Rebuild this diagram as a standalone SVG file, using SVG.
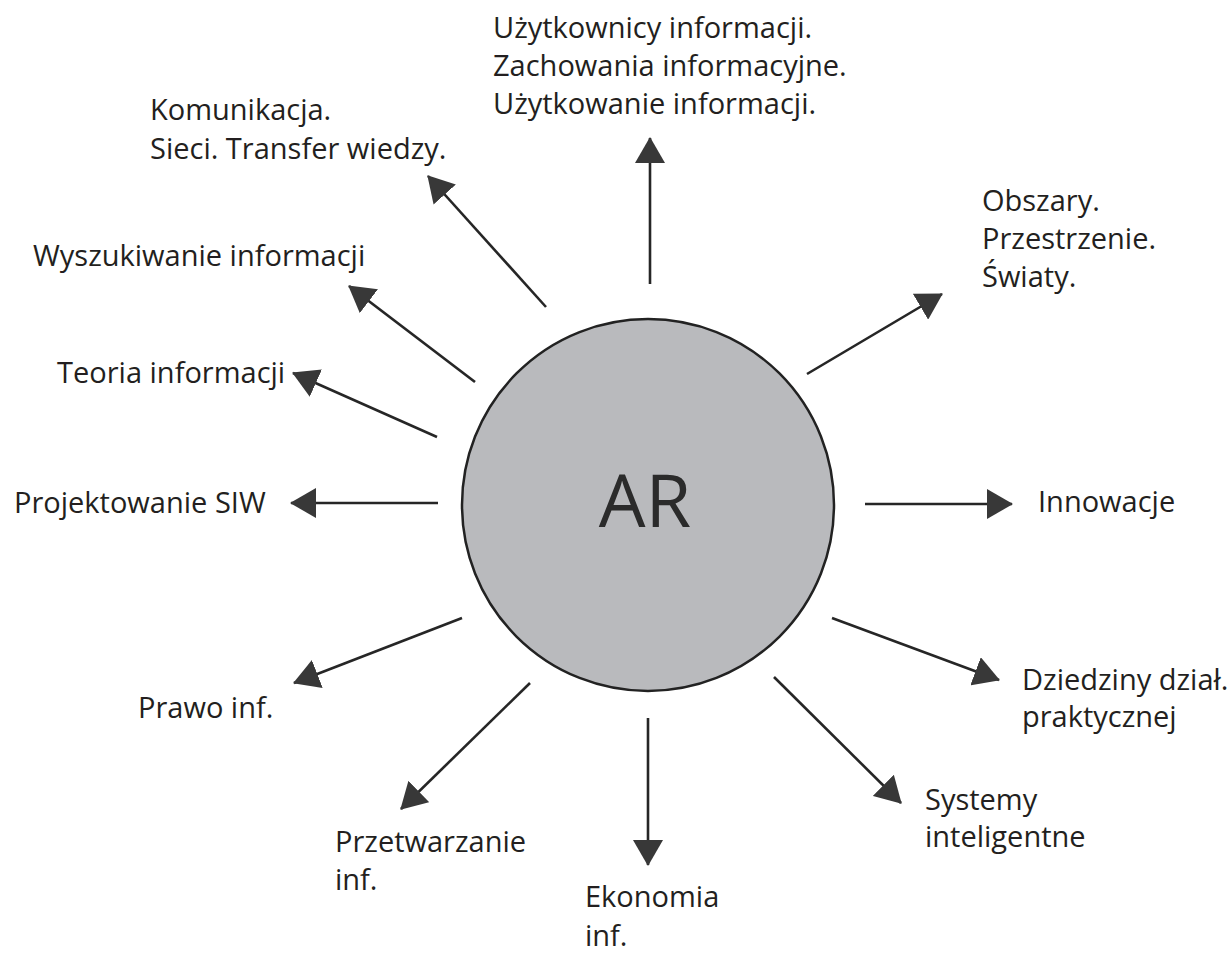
<svg xmlns="http://www.w3.org/2000/svg" width="1232" height="955" viewBox="0 0 1232 955">
<style>
  .lbl { font-family: "Open Sans", "Noto Sans", "Liberation Sans", sans-serif; font-size: 29px; fill: #231f20; }
  .core { font-family: "Open Sans", "Noto Sans", "Liberation Sans", sans-serif; font-size: 74px; fill: #2b2b2b; }
  .arrow { stroke: #262626; stroke-width: 2.6; fill: none; marker-end: url(#head); }
</style>
<defs>
  <marker id="head" viewBox="0 0 26 30" refX="25" refY="15" markerWidth="26" markerHeight="30" markerUnits="userSpaceOnUse" orient="auto">
    <path d="M0,0 L26,15 L0,30 Z" fill="#383838"/>
  </marker>
</defs>
<rect width="1232" height="955" fill="#ffffff"/>

<g id="center">
  <circle cx="648" cy="505" r="186" fill="#b9babd" stroke="#222" stroke-width="2.5"/>
  <text class="core" x="645" y="527" text-anchor="middle">AR</text>
</g>

<g id="connectors">
  <line class="arrow" x1="650" y1="284" x2="650" y2="138"/>
  <line class="arrow" x1="807" y1="374" x2="942" y2="294"/>
  <line class="arrow" x1="865" y1="504" x2="1012" y2="504"/>
  <line class="arrow" x1="832" y1="618" x2="999" y2="680"/>
  <line class="arrow" x1="774" y1="677" x2="901" y2="803"/>
  <line class="arrow" x1="648" y1="718" x2="648" y2="865"/>
  <line class="arrow" x1="530" y1="683" x2="401" y2="809"/>
  <line class="arrow" x1="462" y1="618" x2="294" y2="683"/>
  <line class="arrow" x1="438" y1="503" x2="291" y2="503"/>
  <line class="arrow" x1="437" y1="437" x2="293" y2="373"/>
  <line class="arrow" x1="475" y1="382" x2="349" y2="286"/>
  <line class="arrow" x1="546" y1="307" x2="428" y2="176"/>
</g>

<g id="n-uzytkownicy">
  <text class="lbl" x="493" y="38">Użytkownicy informacji.</text>
  <text class="lbl" x="493" y="76">Zachowania informacyjne.</text>
  <text class="lbl" x="493" y="114">Użytkowanie informacji.</text>
</g>
<g id="n-komunikacja">
  <text class="lbl" x="150" y="120">Komunikacja.</text>
  <text class="lbl" x="150" y="159">Sieci. Transfer wiedzy.</text>
</g>
<g id="n-obszary">
  <text class="lbl" x="982" y="211">Obszary.</text>
  <text class="lbl" x="982" y="249">Przestrzenie.</text>
  <text class="lbl" x="982" y="287">Światy.</text>
</g>
<g id="n-wyszukiwanie">
  <text class="lbl" x="33" y="266">Wyszukiwanie informacji</text>
</g>
<g id="n-teoria">
  <text class="lbl" x="57" y="383">Teoria informacji</text>
</g>
<g id="n-projektowanie">
  <text class="lbl" x="14" y="513">Projektowanie SIW</text>
</g>
<g id="n-innowacje">
  <text class="lbl" x="1038" y="512">Innowacje</text>
</g>
<g id="n-prawo">
  <text class="lbl" x="138" y="718">Prawo inf.</text>
</g>
<g id="n-dziedziny">
  <text class="lbl" x="1022" y="690">Dziedziny dział.</text>
  <text class="lbl" x="1022" y="727">praktycznej</text>
</g>
<g id="n-systemy">
  <text class="lbl" x="925" y="810">Systemy</text>
  <text class="lbl" x="925" y="847">inteligentne</text>
</g>
<g id="n-przetwarzanie">
  <text class="lbl" x="335" y="852">Przetwarzanie</text>
  <text class="lbl" x="335" y="890">inf.</text>
</g>
<g id="n-ekonomia">
  <text class="lbl" x="585" y="907">Ekonomia</text>
  <text class="lbl" x="585" y="946">inf.</text>
</g>
</svg>
